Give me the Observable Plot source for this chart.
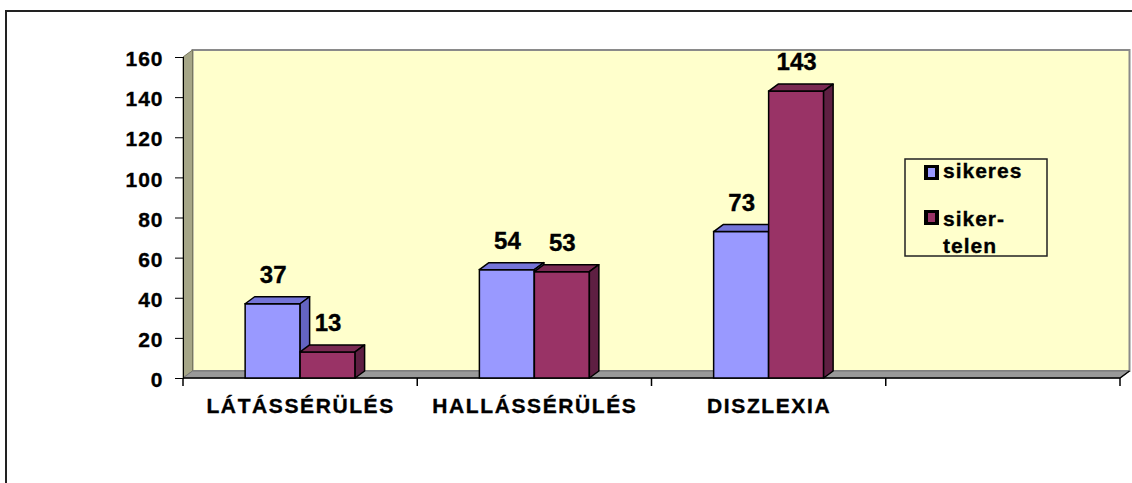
<!DOCTYPE html>
<html><head><meta charset="utf-8">
<script src="https://cdn.jsdelivr.net/npm/d3@7"></script>
<script src="https://cdn.jsdelivr.net/npm/@observablehq/plot@0.6"></script>
<style>
html,body{margin:0;padding:0;background:#fff;overflow:hidden}
#wrap{position:relative;width:1132px;height:483px;overflow:hidden}
#frame{position:absolute;left:5px;top:10px;width:1200px;height:600px;border:2px solid #222;box-sizing:border-box;pointer-events:none}
#chart svg{position:absolute;left:0;top:0}
#chart svg text{stroke:#000;stroke-width:0.35px}
g[aria-label^="fx-axis"] text{letter-spacing:1.6px}
g[aria-label^="y-axis"] text{letter-spacing:1px}
</style></head>
<body><div id="wrap"><div id="frame"></div><div id="chart"></div></div>
<script>
const categories = ["LÁTÁSSÉRÜLÉS", "HALLÁSSÉRÜLÉS", "DISZLEXIA"];
const emptySlot = [""];
const seriesNames = ["sikeres", "sikertelen"];
const sikeres = [37, 54, 73];
const sikertelen = [13, 53, 143];
const yTicks = [0, 20, 40, 60, 80, 100, 120, 140, 160];
const legendLines = [["sikeres"], ["siker-", "telen"]];

const frontColors = ["#9999FF", "#993366"];
const topColors = ["#7474D8", "#7A2952"];
const sideColors = ["#6464C2", "#5E1F42"];

const rows = categories.flatMap((c, i) => [
  {category: c, series: seriesNames[0], value: sikeres[i]},
  {category: c, series: seriesNames[1], value: sikertelen[i]}
]);

const DX = 9.5, DY = -7;

const plot = Plot.plot({
  width: 1132, height: 483,
  marginLeft: 183, marginRight: 12, marginTop: 57, marginBottom: 105,
  style: {fontFamily: "'Liberation Sans', Arial, sans-serif", fontWeight: "bold", fontSize: "21px", color: "#000", background: "transparent", overflow: "visible"},
  facet: {data: rows, x: "category"},
  fx: {domain: [...categories, ...emptySlot], padding: 0, round: false, label: null, axis: "bottom", tickSize: 0, tickPadding: 20},
  x: {domain: seriesNames, paddingInner: 0, paddingOuter: 1.13, round: false, axis: null},
  y: {domain: [0, 160], ticks: yTicks, tickSize: 8, tickPadding: 12, label: null, line: true},
  color: {domain: seriesNames, range: frontColors},
  marks: [
    Plot.barY(rows, {x: "series", y: "value", fill: "series", stroke: "#000", strokeWidth: 1.5}),
    Plot.text(rows, {x: "series", y: "value", text: d => String(d.value), dy: -29, fontSize: 24, fill: "#000"})
  ]
});
document.getElementById("chart").appendChild(plot);

const svg = d3.select(plot);
svg.selectAll('g[aria-label="y-axis tick label"]').each(function () {
  const old = this.getAttribute("transform") || "";
  this.setAttribute("transform", (old + " translate(0,2)").trim());
});

const yS = plot.scale("y");
const fxS = plot.scale("fx");
const [yBase, yTop] = yS.range;
const [xL, xR] = fxS.range;
const nSlots = fxS.domain.length;
const step = (xR - xL) / nSlots;

// walls and floor (behind everything)
const bg = svg.insert("g", "g");
bg.append("rect").attr("x", xL + DX).attr("y", yTop + DY).attr("width", xR - xL).attr("height", yBase - yTop)
  .attr("fill", "#FFFFCC").attr("stroke", "#8a8a8a").attr("stroke-width", 2);
bg.append("polygon").attr("points", [[xL, yTop], [xL + DX, yTop + DY], [xL + DX, yBase + DY], [xL, yBase]].join(" "))
  .attr("fill", "#A6A687").attr("stroke", "#77775f").attr("stroke-width", 1);
bg.append("polygon").attr("points", [[xL, yBase], [xL + DX, yBase + DY], [xR + DX, yBase + DY], [xR, yBase]].join(" "))
  .attr("fill", "#999999").attr("stroke", "#777").attr("stroke-width", 1);
bg.append("path").attr("d", `M${xL},${yBase}H${xR}L${xR + DX},${yBase + DY}`)
  .attr("fill", "none").attr("stroke", "#000").attr("stroke-width", 1.5);
for (let i = 0; i <= nSlots; i++) {
  const x = xL + i * step;
  bg.append("line").attr("x1", x).attr("x2", x).attr("y1", yBase).attr("y2", yBase + 8)
    .attr("stroke", "#000").attr("stroke-width", 1.5);
}

// 3D faces of bars (kept in the same facet group as each bar)
svg.selectAll('g[aria-label="bar"] rect').nodes().forEach(r => {
  const g = r.parentNode;
  const x = +r.getAttribute("x"), y = +r.getAttribute("y");
  const w = +r.getAttribute("width"), h = +r.getAttribute("height");
  const f = (r.getAttribute("fill") || "").toLowerCase();
  let k = frontColors.findIndex(c => c.toLowerCase() === f);
  if (k < 0) k = 0;
  g.appendChild(r);
  d3.select(g).append("polygon")
    .attr("points", [[x, y], [x + w, y], [x + w + DX, y + DY], [x + DX, y + DY]].join(" "))
    .attr("fill", topColors[k]).attr("stroke", "#000").attr("stroke-width", 1.5).attr("stroke-linejoin", "round");
  d3.select(g).append("polygon")
    .attr("points", [[x + w, y], [x + w + DX, y + DY], [x + w + DX, y + h + DY], [x + w, y + h]].join(" "))
    .attr("fill", sideColors[k]).attr("stroke", "#000").attr("stroke-width", 1.5).attr("stroke-linejoin", "round");
});

// legend
const lg = svg.append("g").attr("font-size", 21).attr("letter-spacing", "1px").attr("fill", "#000").attr("text-anchor", "start");
lg.append("rect").attr("x", 905).attr("y", 159).attr("width", 142).attr("height", 97)
  .attr("fill", "#FFFFCC").attr("stroke", "#222").attr("stroke-width", 1.5);
const swY = [165, 210];
const textY = [[178], [226, 253]];
seriesNames.forEach((s, i) => {
  lg.append("rect").attr("x", 924).attr("y", swY[i]).attr("width", 15).attr("height", 15).attr("fill", "#000");
  lg.append("rect").attr("x", 928).attr("y", swY[i] + 3).attr("width", 7).attr("height", 9).attr("fill", frontColors[i]);
  legendLines[i].forEach((t, j) => {
    lg.append("text").attr("x", 943).attr("y", textY[i][j]).attr("text-anchor", "start").text(t);
  });
});
</script>
</body></html>
